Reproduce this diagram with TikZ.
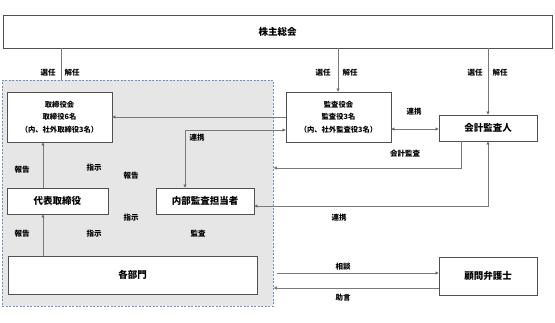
\documentclass[tikz,border=0pt]{standalone}
\usepackage{fontspec}
\setmainfont{Noto Sans CJK JP}
\usetikzlibrary{arrows.meta}
\definecolor{boxline}{HTML}{505050}
\definecolor{conn}{HTML}{7A7A7A}
\definecolor{grpline}{HTML}{6F8FC6}
\definecolor{grpfill}{HTML}{E6E6E6}
\begin{document}
\begin{tikzpicture}[x=1pt,y=-1pt,
  box/.style={draw=boxline,line width=0.8pt,fill=white,inner sep=0pt,align=center,font=\fontsize{9.5}{11}\selectfont\bfseries},
  smallbox/.style={box,font=\fontsize{7.3}{12.5}\selectfont\bfseries},
  grpbox/.style={draw=grpline,fill=grpfill,line width=0.8pt,dash pattern=on 2pt off 1.5pt,inner sep=0pt},
  ln/.style={draw=conn,line width=0.6pt},
  tip/.style={-{Triangle[length=3pt,width=3pt,fill=black]}},
  bitip/.style={{Triangle[length=3pt,width=3pt,fill=black]}-{Triangle[length=3pt,width=3pt,fill=black]}},
  lbl/.style={font=\fontsize{7.5}{8}\selectfont\bfseries,inner sep=0pt}]
\useasboundingbox (0,0) rectangle (555,322);
\fill[white] (0,0) rectangle (555,322);
% group area
\node[grpbox,minimum width=271pt,minimum height=226pt,anchor=north west] (grp) at (2,80) {};
% boxes
\node[box,minimum width=549pt,minimum height=33pt] (kabunushi) at (277.5,31.5) {株主総会};
\node[smallbox,minimum width=105pt,minimum height=50pt] (torishimari) at (59.5,117) {取締役会\\取締役6名\\（内、社外取締役3名）};
\node[smallbox,minimum width=105pt,minimum height=50pt] (kansayaku) at (338.5,117) {監査役会\\監査役3名\\（内、社外監査役3名）};
\node[box,minimum width=98pt,minimum height=26pt] (kaikei) at (488,128) {会計監査人};
\node[box,minimum width=101pt,minimum height=26pt] (daihyo) at (57.5,201) {代表取締役};
\node[box,minimum width=98pt,minimum height=26pt] (naibu) at (205,201) {内部監査担当者};
\node[box,minimum width=249pt,minimum height=38pt] (kakubu) at (132.5,275) {各部門};
\node[box,minimum width=98pt,minimum height=38pt] (komon) at (488,276) {顧問弁護士};
% helper coordinates
\coordinate (xA) at (61,0);
\coordinate (xB) at (338,0);
\coordinate (xD) at (185,130);
\coordinate (yK) at (0,129);
\coordinate (xE) at (461,168);
\coordinate (yN) at (0,206);
\coordinate (xF) at (43,0);
\coordinate (s1) at (277,273);
\coordinate (yJ) at (0,288);
% connectors
\draw[ln] (kabunushi.south -| xA) -- (grp.north -| xA);
\draw[ln,tip] (kabunushi.south -| xB) -- (kansayaku.north -| xB);
\draw[ln,tip] (kabunushi.south -| kaikei.north) -- (kaikei.north);
\draw[ln,tip] (kansayaku.west) -- (torishimari.east);
\draw[ln,bitip] (kansayaku.west |- xD) -| (naibu.north -| xD);
\draw[ln,bitip] (kansayaku.east |- yK) -- (kaikei.west |- yK);
\draw[ln,tip] (kaikei.south -| xE) |- (grp.east |- xE);
\draw[ln,bitip] (kaikei.south) |- (naibu.east |- yN);
\draw[ln,tip] (daihyo.north -| xF) -- (torishimari.south -| xF);
\draw[ln,tip] (kakubu.north -| xF) -- (daihyo.south -| xF);
\draw[ln,tip] (s1) -- (komon.west |- s1);
\draw[ln,tip] (komon.west |- yJ) -- (grp.east |- yJ);
% labels
\node[lbl] (l1) at (48,73) {選任};
\node[lbl] (l2) at (72,73) {解任};
\node[lbl] (l3) at (323,73) {選任};
\node[lbl] (l4) at (350,73) {解任};
\node[lbl] (l5) at (475,73) {選任};
\node[lbl] (l6) at (500,73) {解任};
\node[lbl] (l7) at (414,112) {連携};
\node[lbl] (l8) at (197,138) {連携};
\node[lbl] (l9) at (405,154) {会計監査};
\node[lbl] (l10) at (22,170) {報告};
\node[lbl] (l11) at (94,168) {指示};
\node[lbl] (l12) at (131,176) {報告};
\node[lbl] (l13) at (131,218) {指示};
\node[lbl] (l14) at (339,218) {連携};
\node[lbl] (l15) at (22,234) {報告};
\node[lbl] (l16) at (94,234) {指示};
\node[lbl] (l17) at (198,234) {監査};
\node[lbl] (l18) at (343,267) {相談};
\node[lbl] (l19) at (343,298) {助言};
\end{tikzpicture}
\end{document}
